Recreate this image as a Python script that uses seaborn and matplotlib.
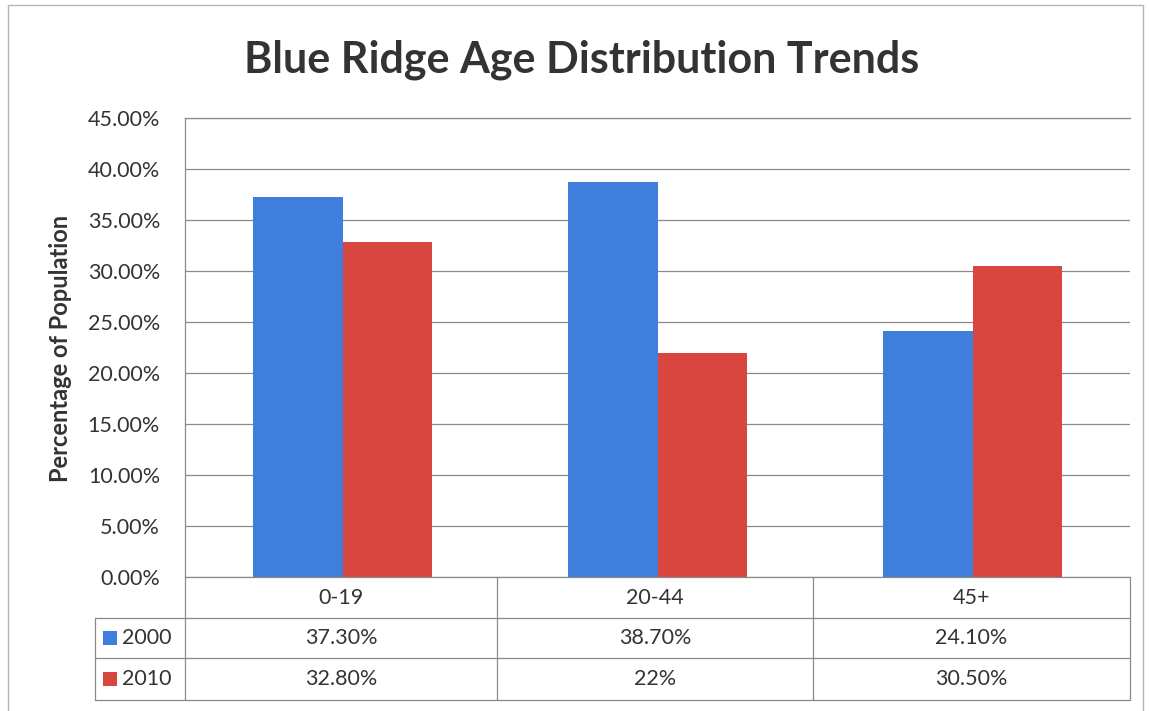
import matplotlib
matplotlib.use("Agg")
import matplotlib.pyplot as plt
from matplotlib.lines import Line2D
from matplotlib.patches import Rectangle
import seaborn as sns
import pandas as pd

# Data
age_groups = ["0-19", "20-44", "45+"]
years = ["2000", "2010"]
cells_2000 = ["37.30%", "38.70%", "24.10%"]
cells_2010 = ["32.80%", "22%", "30.50%"]
share_2000 = [float(s.rstrip("%")) for s in cells_2000]
share_2010 = [float(s.rstrip("%")) for s in cells_2010]
y_ticks = [0, 5, 10, 15, 20, 25, 30, 35, 40, 45]

BLUE = "#3f7fdb"
RED = "#d9453f"
GRID = "#8a8a8a"
TEXT = "#333333"
FS = 15.5

df = pd.DataFrame({
    "Age": age_groups * 2,
    "Year": [years[0]] * 3 + [years[1]] * 3,
    "Share": share_2000 + share_2010,
})

sns.set_theme(style="white")
plt.rcParams["font.family"] = ["Lato", "DejaVu Sans"]

W, H = 1149, 711
fig = plt.figure(figsize=(W / 100, H / 100), dpi=100)


def fx(x):
    return x / W


def fy(y):
    return 1 - y / H


# plot area in pixel terms
L, R, T, B = 185, 1130, 118, 577
ax = fig.add_axes([fx(L), fy(B), fx(R) - fx(L), fy(T) - fy(B)])

sns.barplot(data=df, x="Age", y="Share", hue="Year", order=age_groups,
            hue_order=years, palette=[BLUE, RED], width=0.57, gap=0,
            saturation=1, ax=ax, legend=False)
for p in ax.patches:
    p.set_linewidth(0)

ax.set_xlim(-0.5, 2.5)
ax.set_ylim(0, 45)
ax.set_yticks(y_ticks)
ax.set_yticklabels([f"{t:.2f}%" for t in y_ticks], fontsize=FS, color=TEXT)
ax.yaxis.grid(True, color=GRID, linewidth=0.9)
ax.set_axisbelow(True)
ax.set_xticks([])
ax.set_xlabel("")
ax.set_ylabel("")
ax.tick_params(axis="y", length=0, pad=18)
for s in ["right", "bottom"]:
    ax.spines[s].set_visible(False)
for s in ["left", "top"]:
    ax.spines[s].set_color(GRID)
    ax.spines[s].set_linewidth(0.9)

# title and y-axis label
fig.text(fx(582), fy(60), "Blue Ridge Age Distribution Trends",
         fontsize=31, fontweight="bold", color=TEXT, ha="center", va="center")
fig.text(fx(61), fy(348), "Percentage of Population", rotation=90,
         fontsize=17, fontweight="bold", color=TEXT, ha="center", va="center")

# data table under the axis
col_edges = [L, 497, 813, R]
rows = [577, 618, 658, 700]
leg_left = 95
lk = dict(color=GRID, linewidth=0.9, transform=fig.transFigure)

fig.add_artist(Line2D([fx(L), fx(R)], [fy(rows[0])] * 2, **lk))
for y in rows[1:]:
    fig.add_artist(Line2D([fx(leg_left), fx(R)], [fy(y)] * 2, **lk))
for x in col_edges:
    fig.add_artist(Line2D([fx(x)] * 2, [fy(rows[0]), fy(rows[-1])], **lk))
fig.add_artist(Line2D([fx(leg_left)] * 2, [fy(rows[1]), fy(rows[-1])], **lk))

for i, name in enumerate(age_groups):
    cx = (col_edges[i] + col_edges[i + 1]) / 2
    fig.text(fx(cx), fy((rows[0] + rows[1]) / 2), name, fontsize=FS,
             color=TEXT, ha="center", va="center")
    fig.text(fx(cx), fy((rows[1] + rows[2]) / 2), cells_2000[i], fontsize=FS,
             color=TEXT, ha="center", va="center")
    fig.text(fx(cx), fy((rows[2] + rows[3]) / 2), cells_2010[i], fontsize=FS,
             color=TEXT, ha="center", va="center")

for r, (yr, col) in enumerate(zip(years, [BLUE, RED])):
    cy = (rows[r + 1] + rows[r + 2]) / 2
    fig.add_artist(Rectangle((fx(103), fy(cy + 7)), fx(14), fy(0) - fy(14),
                             facecolor=col, edgecolor="none",
                             transform=fig.transFigure))
    fig.text(fx(122), fy(cy), yr, fontsize=FS, color=TEXT,
             ha="left", va="center")

# outer chart frame
fig.add_artist(Rectangle((fx(8), fy(720)), fx(1143) - fx(8), fy(5) - fy(720),
                         facecolor="none", edgecolor="#b5b5b5", linewidth=1.0,
                         transform=fig.transFigure))

fig.savefig("out.png", dpi=100, facecolor="white")
